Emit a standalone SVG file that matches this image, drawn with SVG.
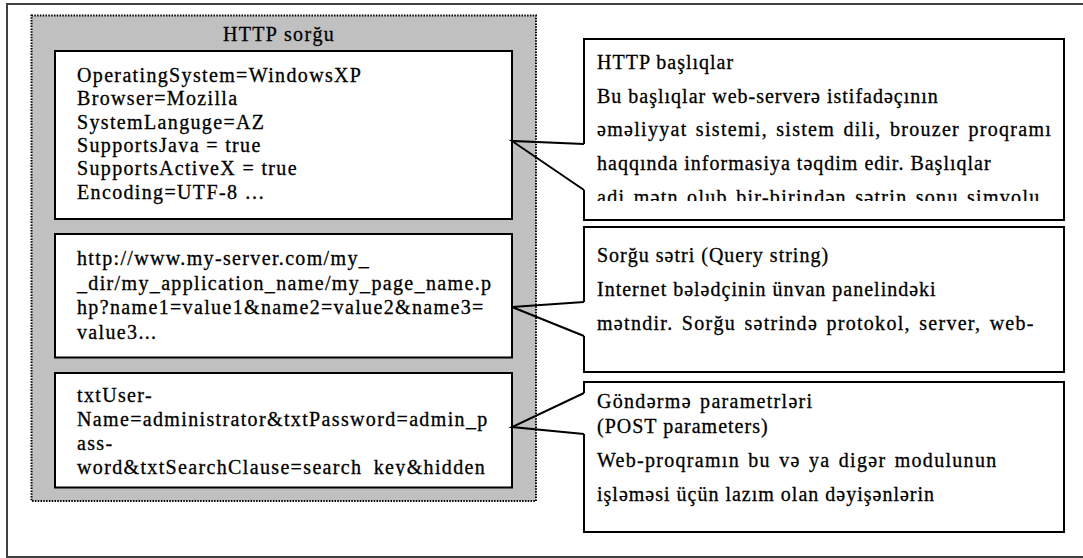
<svg xmlns="http://www.w3.org/2000/svg" width="1083" height="558" viewBox="0 0 1083 558">
<style>
.t{font-family:"Liberation Serif","Times New Roman",serif;font-size:20px;fill:#000;stroke:#000;stroke-width:0.3px;letter-spacing:1.35px}
.c{font-family:"Liberation Serif","Times New Roman",serif;font-size:20px;fill:#000;stroke:#000;stroke-width:0.3px;letter-spacing:1px}
.w{word-spacing:2px;letter-spacing:1.3px}
.box{fill:#fff;stroke:#000;stroke-width:2}
.call{fill:none;stroke:#000;stroke-width:2;stroke-linejoin:miter}
</style>
<defs>
<clipPath id="clipB3"><rect x="55" y="373" width="457" height="103"/></clipPath>
<clipPath id="clipC1"><rect x="584" y="39" width="480" height="162"/></clipPath>
</defs>
<rect x="0" y="0" width="1083" height="558" fill="#fff"/>
<rect id="frame" x="7" y="4" width="1100" height="553" fill="none" stroke="#404040" stroke-width="2"/>
<g id="request">
<rect x="31.5" y="15.5" width="504.5" height="485.5" fill="#c0c0c0" stroke="#000" stroke-width="2" stroke-dasharray="1.5 1.3"/>
<text class="t" x="279" y="41" text-anchor="middle">HTTP sorğu</text>
</g>
<g id="headers">
<rect class="box" x="55" y="51" width="457" height="168"/>
<text class="t" x="77" y="82">OperatingSystem=WindowsXP</text>
<text class="t" x="77" y="105.3">Browser=Mozilla</text>
<text class="t" x="77" y="128.6">SystemLanguge=AZ</text>
<text class="t" x="77" y="151.9">SupportsJava = true</text>
<text class="t" x="77" y="175.2">SupportsActiveX = true</text>
<text class="t" x="77" y="198.5">Encoding=UTF-8 …</text>
</g>
<g id="query">
<rect class="box" x="55" y="234" width="457" height="123.5"/>
<text class="t" x="77" y="265">http://www.my-server.com/my_</text>
<text class="t" x="77" y="289.5">_dir/my_application_name/my_page_name.p</text>
<text class="t" x="77" y="314">hp?name1=value1&amp;name2=value2&amp;name3=</text>
<text class="t" x="77" y="338.5">value3...</text>
</g>
<g id="post">
<rect class="box" x="55" y="373" width="457" height="114.5"/>
<g clip-path="url(#clipB3)">
<text class="t" x="77" y="402">txtUser-</text>
<text class="t" x="77" y="426">Name=administrator&amp;txtPassword=admin_p</text>
<text class="t" x="77" y="450">ass-</text>
<text class="t" x="77" y="474">word&amp;txtSearchClause=search_key&amp;hidden</text>
</g>
</g>
<g id="connectors">
<path class="call" d="M584,144 L512,141 L584,190"/>
<path class="call" d="M584,302 L512,307 L584,336"/>
<path class="call" d="M584,393 L512,427 L584,434"/>
</g>
<g id="callout-headers">
<path class="call" d="M584,144 V39 H1064 V220 H584 V190"/>
<text class="c" x="597" y="69">HTTP başlıqlar</text>
<text class="c" x="597" y="102.7">Bu başlıqlar web-serverə istifadəçının</text>
<text class="c w" x="597" y="136.4">əməliyyat sistemi, sistem dili, brouzer proqramı</text>
<text class="c" x="597" y="170.1">haqqında informasiya təqdim edir. Başlıqlar</text>
<text class="c w" x="597" y="203.8" clip-path="url(#clipC1)">adi mətn olub bir-birindən sətrin sonu simvolu</text>
</g>
<g id="callout-query">
<path class="call" d="M584,302 V227 H1064 V372 H584 V336"/>
<text class="c" x="597" y="262">Sorğu sətri (Query string)</text>
<text class="c" x="597" y="296">Internet bələdçinin ünvan panelindəki</text>
<text class="c w" x="597" y="330">mətndir. Sorğu sətrində protokol, server, web-</text>
</g>
<g id="callout-post">
<path class="call" d="M584,393 V382 H1064 V532 H584 V434"/>
<text class="c w" x="597" y="408">Göndərmə parametrləri</text>
<text class="c" x="597" y="433">(POST parameters)</text>
<text class="c w" x="597" y="467">Web-proqramın bu və ya digər modulunun</text>
<text class="c" x="597" y="501">işləməsi üçün lazım olan dəyişənlərin</text>
</g>
</svg>
